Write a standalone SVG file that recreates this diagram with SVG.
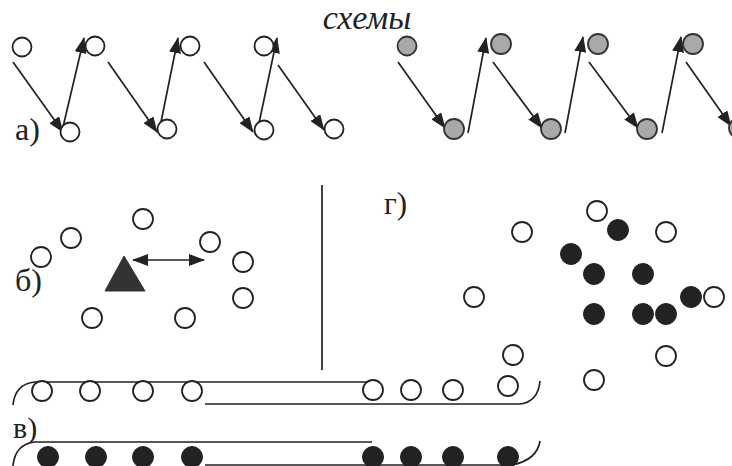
<svg xmlns="http://www.w3.org/2000/svg" width="732" height="466" viewBox="0 0 732 466">
<defs>
<marker id="ah" viewBox="0 0 16 12" refX="15" refY="6" markerWidth="16" markerHeight="12" markerUnits="userSpaceOnUse" orient="auto-start-reverse">
<path d="M0,0 L16,6 L0,12 z" fill="#222"/>
</marker>
<style>
.o{fill:#fff;stroke:#222;stroke-width:1.8}
.g{fill:#a9a9a9;stroke:#333;stroke-width:1.8}
.f{fill:#222;stroke:#222;stroke-width:1}
.c{stroke:#222;stroke-width:1.7;fill:none}
.a{stroke:#222;stroke-width:1.7;fill:none;marker-end:url(#ah)}
</style>
</defs>
<rect width="732" height="466" fill="#fff"/>
<text font-family="'Liberation Serif','DejaVu Serif',serif" fill="#222" x="367" y="29" font-size="34" font-style="italic" text-anchor="middle">схемы</text>
<text font-family="'Liberation Serif','DejaVu Serif',serif" fill="#222" x="15" y="140" font-size="32">а)</text>
<text font-family="'Liberation Serif','DejaVu Serif',serif" fill="#222" x="15" y="291" font-size="32">б)</text>
<text font-family="'Liberation Serif','DejaVu Serif',serif" fill="#222" x="384" y="214" font-size="31">г)</text>
<text font-family="'Liberation Serif','DejaVu Serif',serif" fill="#222" x="13" y="438" font-size="30">в)</text>

<g id="connectors">
<line class="a" x1="13" y1="62" x2="63" y2="132"/>
<line class="a" x1="63" y1="127" x2="84" y2="38"/>
<line class="a" x1="108" y1="62" x2="157" y2="132"/>
<line class="a" x1="160" y1="127" x2="178" y2="38"/>
<line class="a" x1="204" y1="62" x2="253" y2="132"/>
<line class="a" x1="258" y1="128" x2="277" y2="38"/>
<line class="a" x1="278" y1="65" x2="324" y2="130"/>
<line class="a" x1="398" y1="62" x2="445" y2="128"/>
<line class="a" x1="468" y1="133" x2="486" y2="38"/>
<line class="a" x1="493" y1="62" x2="542" y2="128"/>
<line class="a" x1="565" y1="133" x2="583" y2="37"/>
<line class="a" x1="589" y1="62" x2="638" y2="128"/>
<line class="a" x1="662" y1="133" x2="681" y2="37"/>
<line class="a" x1="686" y1="62" x2="731" y2="126"/>
<line class="c" x1="133" y1="260" x2="204" y2="260" style="marker-start:url(#ah);marker-end:url(#ah)"/>
<line class="c" x1="322" y1="185" x2="322" y2="370"/>
<path class="c" d="M13,405 Q15,384 35,382 L371,382"/>
<path class="c" d="M205,404 L520,404 Q538,402 540,381"/>
<path class="c" d="M13,466 Q15,444 35,442 L372,442"/>
<path class="c" d="M205,465 L512,465 Q537,460 540,441"/>
</g>

<g id="a-open">
<g id="a1"><circle class="o" cx="22" cy="47" r="9.5"/></g>
<g id="a2"><circle class="o" cx="95" cy="46" r="9.5"/></g>
<g id="a3"><circle class="o" cx="190" cy="46" r="9.5"/></g>
<g id="a4"><circle class="o" cx="264" cy="46" r="9.5"/></g>
<g id="a5"><circle class="o" cx="70" cy="132" r="9.5"/></g>
<g id="a6"><circle class="o" cx="167" cy="129" r="9.5"/></g>
<g id="a7"><circle class="o" cx="264" cy="130" r="9.5"/></g>
<g id="a8"><circle class="o" cx="334" cy="129" r="9.5"/></g>
</g>
<g id="a-gray">
<g id="ag1"><circle class="g" cx="407" cy="46" r="9.5"/></g>
<g id="ag2"><circle class="g" cx="501" cy="44" r="10"/></g>
<g id="ag3"><circle class="g" cx="598" cy="44" r="10"/></g>
<g id="ag4"><circle class="g" cx="693" cy="44" r="10"/></g>
<g id="ag5"><circle class="g" cx="454" cy="129" r="10"/></g>
<g id="ag6"><circle class="g" cx="551" cy="129" r="10"/></g>
<g id="ag7"><circle class="g" cx="647" cy="129" r="10"/></g>
<g id="ag8"><circle class="g" cx="739" cy="128" r="10"/></g>
</g>

<g id="b-nodes">
<g id="b-tri"><polygon points="124,256 105,291 145,291" fill="#333" stroke="#333" stroke-width="1"/></g>
<g id="b1"><circle class="o" cx="143" cy="219" r="10"/></g>
<g id="b2"><circle class="o" cx="71" cy="238" r="10"/></g>
<g id="b3"><circle class="o" cx="41" cy="257" r="10"/></g>
<g id="b4"><circle class="o" cx="210" cy="242" r="10"/></g>
<g id="b5"><circle class="o" cx="243" cy="262" r="10"/></g>
<g id="b6"><circle class="o" cx="243" cy="298" r="10"/></g>
<g id="b7"><circle class="o" cx="185" cy="318" r="10"/></g>
<g id="b8"><circle class="o" cx="92" cy="318" r="10"/></g>
</g>

<g id="g-nodes">
<g id="g1"><circle class="o" cx="522" cy="232" r="10"/></g>
<g id="g2"><circle class="o" cx="597" cy="211" r="10"/></g>
<g id="g3"><circle class="o" cx="666" cy="232" r="10"/></g>
<g id="g4"><circle class="o" cx="474" cy="297" r="10"/></g>
<g id="g5"><circle class="o" cx="714" cy="297" r="10"/></g>
<g id="g6"><circle class="o" cx="513" cy="355" r="10"/></g>
<g id="g7"><circle class="o" cx="666" cy="356" r="10"/></g>
<g id="g8"><circle class="o" cx="594" cy="380" r="10"/></g>
<g id="g9"><circle class="f" cx="618" cy="230" r="10.5"/></g>
<g id="g10"><circle class="f" cx="571" cy="254" r="10.5"/></g>
<g id="g11"><circle class="f" cx="594" cy="274" r="10.5"/></g>
<g id="g12"><circle class="f" cx="643" cy="274" r="10.5"/></g>
<g id="g13"><circle class="f" cx="691" cy="297" r="10.5"/></g>
<g id="g14"><circle class="f" cx="594" cy="314" r="10.5"/></g>
<g id="g15"><circle class="f" cx="643" cy="314" r="10.5"/></g>
<g id="g16"><circle class="f" cx="666" cy="314" r="10.5"/></g>
</g>

<g id="v-nodes">
<g id="v1"><circle class="o" cx="42" cy="391" r="10"/></g>
<g id="v2"><circle class="o" cx="90" cy="391" r="10"/></g>
<g id="v3"><circle class="o" cx="143" cy="391" r="10"/></g>
<g id="v4"><circle class="o" cx="192" cy="391" r="10"/></g>
<g id="v5"><circle class="o" cx="373" cy="390" r="10"/></g>
<g id="v6"><circle class="o" cx="411" cy="390" r="10"/></g>
<g id="v7"><circle class="o" cx="453" cy="390" r="10"/></g>
<g id="v8"><circle class="o" cx="508" cy="386" r="10"/></g>
<g id="v9"><circle class="f" cx="48" cy="457" r="10.5"/></g>
<g id="v10"><circle class="f" cx="96" cy="457" r="10.5"/></g>
<g id="v11"><circle class="f" cx="143" cy="457" r="10.5"/></g>
<g id="v12"><circle class="f" cx="192" cy="457" r="10.5"/></g>
<g id="v13"><circle class="f" cx="373" cy="457" r="10.5"/></g>
<g id="v14"><circle class="f" cx="411" cy="457" r="10.5"/></g>
<g id="v15"><circle class="f" cx="453" cy="457" r="10.5"/></g>
<g id="v16"><circle class="f" cx="508" cy="457" r="10.5"/></g>
</g>
</svg>
